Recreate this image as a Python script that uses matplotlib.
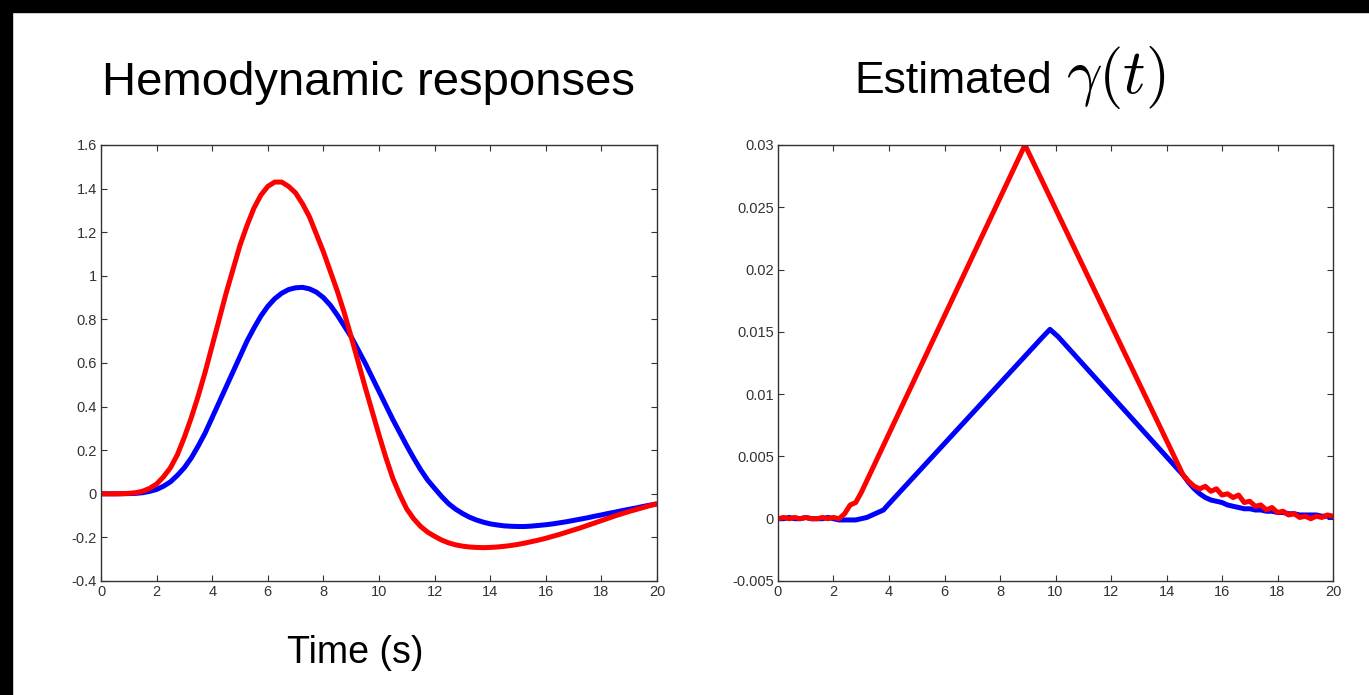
import matplotlib
matplotlib.use("Agg")
import matplotlib.pyplot as plt
from matplotlib.ticker import FuncFormatter
from matplotlib.patches import Rectangle

# ---- left panel: hemodynamic responses (sampled every 0.25 s)
t_hrf = [i * 0.25 for i in range(81)]
hrf_red = [0, 0, 0, 0.001, 0.002, 0.005, 0.012, 0.025, 0.045, 0.078,
           0.12, 0.18, 0.26, 0.35, 0.45, 0.56, 0.68, 0.80, 0.92, 1.03,
           1.14, 1.23, 1.31, 1.37, 1.41, 1.43, 1.43, 1.41, 1.38, 1.33,
           1.27, 1.19, 1.11, 1.02, 0.93, 0.83, 0.72, 0.605, 0.49, 0.38,
           0.27, 0.165, 0.07, -0.005, -0.07, -0.115, -0.15, -0.176, -0.195, -0.212,
           -0.225, -0.234, -0.24, -0.244, -0.246, -0.247, -0.246, -0.244, -0.241, -0.237,
           -0.232, -0.226, -0.219, -0.212, -0.204, -0.195, -0.186, -0.176, -0.166, -0.156,
           -0.145, -0.134, -0.123, -0.112, -0.101, -0.091, -0.081, -0.072, -0.063, -0.054,
           -0.046]
hrf_blue = [0, 0, 0, 0, 0.001, 0.002, 0.005, 0.011, 0.02, 0.035,
            0.055, 0.085, 0.12, 0.165, 0.22, 0.28, 0.35, 0.42, 0.49, 0.56,
            0.63, 0.70, 0.76, 0.815, 0.86, 0.895, 0.92, 0.937, 0.945, 0.947,
            0.94, 0.925, 0.90, 0.865, 0.82, 0.77, 0.72, 0.66, 0.60, 0.535,
            0.47, 0.405, 0.34, 0.28, 0.22, 0.163, 0.11, 0.063, 0.025, -0.012,
            -0.045, -0.07, -0.09, -0.107, -0.12, -0.13, -0.138, -0.143, -0.147, -0.149,
            -0.15, -0.15, -0.148, -0.145, -0.142, -0.138, -0.133, -0.128, -0.122, -0.116,
            -0.11, -0.103, -0.097, -0.09, -0.084, -0.077, -0.071, -0.065, -0.058, -0.052,
            -0.046]

# ---- right panel: estimated gamma(t)
t_red = [0, 0.2, 0.4, 0.6, 0.8, 1.0, 1.2, 1.4, 1.6, 1.8, 2.0, 2.2,
         2.4, 2.6, 2.8, 3.0, 8.9, 14.6,
         14.8, 15.0, 15.2, 15.4, 15.6, 15.8, 16.0, 16.2, 16.4, 16.6, 16.8,
         17.0, 17.2, 17.4, 17.6, 17.8, 18.0, 18.2, 18.4, 18.6, 18.8,
         19.0, 19.2, 19.4, 19.6, 19.8, 20.0]
gam_red = [0.0000, 0.0001, 0.0000, 0.0001, 0.0000, 0.0001, 0.0000, 0.0000, 0.0001, 0.0000, 0.0001, 0.0000,
           0.0004, 0.0011, 0.0013, 0.0021, 0.0300, 0.0035,
           0.0030, 0.0026, 0.0024, 0.0026, 0.0022, 0.0024, 0.0019, 0.0020, 0.0017, 0.0019, 0.0013,
           0.0014, 0.0010, 0.0011, 0.0007, 0.0009, 0.0005, 0.0006, 0.0003, 0.0004, 0.0001,
           0.0002, 0.0000, 0.0002, 0.0001, 0.0003, 0.0002]

t_blue = [0, 0.2, 0.4, 0.6, 0.8, 1.0, 1.2, 1.4, 1.6, 1.8, 2.0, 2.2, 2.4, 2.6, 2.8,
          3.0, 3.2, 3.4, 3.6, 3.8, 4.0, 9.5, 9.8, 10.1, 14.6,
          14.8, 15.0, 15.2, 15.4, 15.6, 15.8, 16.0, 16.2, 16.4, 16.6, 16.8,
          17.0, 17.2, 17.4, 17.6, 17.8, 18.0, 18.2, 18.4, 18.6, 18.8,
          19.0, 19.2, 19.4, 19.6, 19.8, 20.0]
gam_blue = [0.0000, 0.0000, 0.0001, 0.0000, 0.0000, 0.0001, 0.0000, 0.0000, 0.0000, 0.0001,
            0.0000, -0.0001, -0.0001, -0.0001, -0.0001,
            0.0000, 0.0001, 0.0003, 0.0005, 0.0007, 0.0012, 0.0145, 0.0152, 0.0146, 0.0035,
            0.0029, 0.0024, 0.0020, 0.0017, 0.0015, 0.0014, 0.0013, 0.0011, 0.0010, 0.0009, 0.0008,
            0.0008, 0.0007, 0.0007, 0.0006, 0.0006, 0.0005, 0.0005, 0.0004, 0.0004, 0.0003,
            0.0003, 0.0003, 0.0003, 0.0002, 0.0002, 0.0001]

plt.rcParams['font.family'] = ['Liberation Sans', 'DejaVu Sans']
plt.rcParams['mathtext.fontset'] = 'cm'
plt.rcParams['axes.unicode_minus'] = False

W, H = 1369, 695
fig = plt.figure(figsize=(W / 100, H / 100), dpi=100)
fig.patch.set_facecolor('white')

# black frame strips at top and left
fig.patches.append(Rectangle((0, 1 - 12 / H), 1, 12 / H, transform=fig.transFigure,
                             color='black', zorder=0))
fig.patches.append(Rectangle((0, 0), 12 / W, 1, transform=fig.transFigure,
                             color='black', zorder=0))

def box(x0, x1, y0, y1):
    return [x0 / W, 1 - y1 / H, (x1 - x0) / W, (y1 - y0) / H]

ax1 = fig.add_axes(box(101, 657, 145, 581))
ax2 = fig.add_axes(box(778, 1333, 145, 581))

lw = 3.6
ax1.plot(t_hrf, hrf_blue, color='#0000ff', lw=lw, solid_capstyle='butt')
ax1.plot(t_hrf, hrf_red, color='#ff0000', lw=lw, solid_capstyle='butt')
ax2.plot(t_blue, gam_blue, color='#0000ff', lw=lw, solid_joinstyle='round')
ax2.plot(t_red, gam_red, color='#ff0000', lw=lw, solid_joinstyle='round')

ax1.set_xlim(0, 20)
ax1.set_ylim(-0.4, 1.6)
ax1.set_yticks([-0.4 + 0.2 * i for i in range(11)])
ax2.set_xlim(0, 20)
ax2.set_ylim(-0.005, 0.03)
ax2.set_yticks([-0.005 + 0.005 * i for i in range(8)])

fmt = FuncFormatter(lambda v, p: '%g' % round(v, 6))
for ax in (ax1, ax2):
    ax.set_xticks(range(0, 21, 2))
    ax.xaxis.set_major_formatter(fmt)
    ax.yaxis.set_major_formatter(fmt)
    ax.tick_params(direction='in', length=4, width=0.8, colors='#333333',
                   labelsize=10.5, top=True, right=True, pad=3)
    for s in ax.spines.values():
        s.set_color('#333333')
        s.set_linewidth(1.0)

fig.text(368 / W, 1 - 95 / H, 'Hemodynamic responses', fontsize=34,
         ha='center', va='baseline')
fig.text(854 / W, 1 - 93 / H, 'Estimated', fontsize=32,
         ha='left', va='baseline')
fig.text(1116 / W, 1 - 93 / H, r'$\gamma(t)$', fontsize=45,
         ha='center', va='baseline')
fig.text(355 / W, 1 - 663 / H, 'Time (s)', fontsize=27,
         ha='center', va='baseline')

fig.savefig('out.png', dpi=100)
